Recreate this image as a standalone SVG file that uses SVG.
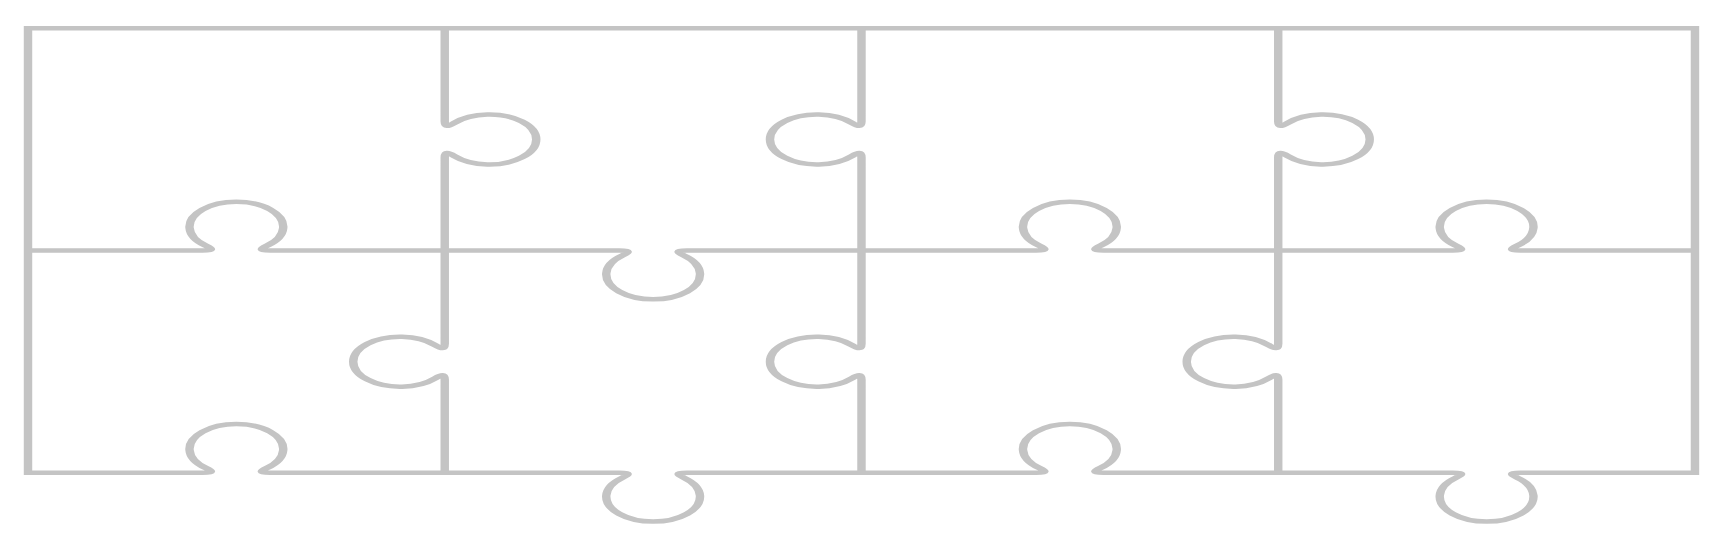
<svg xmlns="http://www.w3.org/2000/svg" width="1725" height="541" viewBox="0 0 1725 541">
<style>
.cut{fill:none;stroke:#c4c4c4;stroke-width:4.5;stroke-linejoin:miter}
</style>
<rect width="1725" height="541" fill="#ffffff"/>
<g id="puzzle" transform="translate(28,28.3) scale(1.8751,1)">
<path id="border" class="cut" d="M889,444.5 V0 H0 V444.5 H93.13 C99.13,444.5 98.43,442.8 94.63,439.48 A25,25 0 1 1 127.63,439.48 C123.83,442.8 123.13,444.5 129.13,444.5 H315.38 C321.38,444.5 320.68,446.2 316.88,449.52 A25,25 0 1 0 349.88,449.52 C346.08,446.2 345.38,444.5 351.38,444.5 H537.63 C543.63,444.5 542.93,442.8 539.13,439.48 A25,25 0 1 1 572.13,439.48 C568.33,442.8 567.63,444.5 573.63,444.5 H759.88 C765.88,444.5 765.18,446.2 761.38,449.52 A25,25 0 1 0 794.38,449.52 C790.58,446.2 789.88,444.5 795.88,444.5 H889 Z"/>
<path id="row-cut" class="cut" d="M0,222.25 H93.13 C99.13,222.25 98.43,220.55 94.63,217.23 A25,25 0 1 1 127.63,217.23 C123.83,220.55 123.13,222.25 129.13,222.25 H315.38 C321.38,222.25 320.68,223.95 316.88,227.27 A25,25 0 1 0 349.88,227.27 C346.08,223.95 345.38,222.25 351.38,222.25 H537.63 C543.63,222.25 542.93,220.55 539.13,217.23 A25,25 0 1 1 572.13,217.23 C568.33,220.55 567.63,222.25 573.63,222.25 H759.88 C765.88,222.25 765.18,220.55 761.38,217.23 A25,25 0 1 1 794.38,217.23 C790.58,220.55 789.88,222.25 795.88,222.25 H889"/>
<path id="col-cut-1" class="cut" d="M222.25,0 V93.13 C222.25,99.13 223.95,98.43 227.27,94.63 A25,25 0 1 1 227.27,127.63 C223.95,123.83 222.25,123.13 222.25,129.13 V315.38 C222.25,321.38 220.55,320.68 217.23,316.88 A25,25 0 1 0 217.23,349.88 C220.55,346.08 222.25,345.38 222.25,351.38 V444.5"/>
<path id="col-cut-2" class="cut" d="M444.5,0 V93.13 C444.5,99.13 442.8,98.43 439.48,94.63 A25,25 0 1 0 439.48,127.63 C442.8,123.83 444.5,123.13 444.5,129.13 V315.38 C444.5,321.38 442.8,320.68 439.48,316.88 A25,25 0 1 0 439.48,349.88 C442.8,346.08 444.5,345.38 444.5,351.38 V444.5"/>
<path id="col-cut-3" class="cut" d="M666.75,0 V93.13 C666.75,99.13 668.45,98.43 671.77,94.63 A25,25 0 1 1 671.77,127.63 C668.45,123.83 666.75,123.13 666.75,129.13 V315.38 C666.75,321.38 665.05,320.68 661.73,316.88 A25,25 0 1 0 661.73,349.88 C665.05,346.08 666.75,345.38 666.75,351.38 V444.5"/>
</g>
</svg>
